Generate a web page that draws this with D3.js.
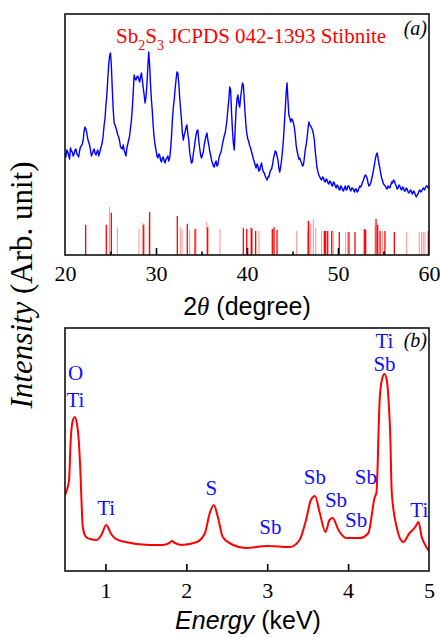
<!DOCTYPE html>
<html>
<head>
<meta charset="utf-8">
<script src="https://cdn.jsdelivr.net/npm/d3@7"></script>
<style>
  body { margin: 0; background: #fff; }
  svg { display: block; }
</style>
</head>
<body>
<div id="chart"></div>
<script>
// XRD pattern, one reading every 0.1 degree from 20 to 60 (arb. counts)
const xrdStart = 20;
const xrdStep = 0.1;
const xrdCounts = [
  102, 98, 105, 103, 100, 96, 107, 104, 103, 99, 101, 105, 106, 101, 100, 98, 104, 108, 109, 111,
  115, 124, 128, 126, 122, 116, 113, 110, 105, 99, 101, 104, 106, 102, 100, 103, 105, 99, 102, 106,
  109, 113, 120, 130, 137, 150, 160, 176, 190, 199, 202, 188, 165, 145, 132, 130, 127, 124, 120, 118,
  114, 108, 107, 106, 110, 105, 102, 99, 107, 111, 115, 119, 127, 135, 147, 163, 180, 176, 175, 178,
  179, 176, 173, 178, 182, 175, 167, 160, 152, 158, 170, 188, 203, 190, 170, 155, 143, 128, 117, 110,
  105, 99, 97, 101, 100, 95, 93, 97, 98, 94, 92, 96, 97, 99, 94, 97, 105, 118, 135, 147,
  155, 166, 175, 183, 182, 172, 158, 146, 135, 122, 115, 120, 123, 128, 130, 121, 115, 103, 97, 92,
  93, 101, 107, 114, 120, 124, 125, 114, 107, 100, 97, 100, 103, 110, 115, 119, 122, 115, 110, 104,
  100, 95, 92, 89, 88, 92, 94, 89, 90, 96, 100, 102, 105, 111, 115, 119, 122, 128, 135, 146,
  155, 168, 165, 143, 125, 112, 105, 126, 145, 156, 160, 152, 148, 158, 165, 172, 170, 155, 140, 128,
  120, 116, 113, 109, 107, 103, 100, 96, 93, 90, 87, 91, 89, 84, 85, 89, 92, 86, 83, 82,
  79, 77, 75, 78, 78, 82, 85, 86, 90, 96, 100, 104, 103, 99, 95, 87, 83, 88, 95, 104,
  115, 130, 145, 162, 172, 155, 140, 137, 133, 136, 135, 132, 128, 120, 110, 104, 100, 96, 97, 94,
  92, 89, 90, 97, 105, 110, 117, 126, 133, 130, 129, 127, 125, 121, 115, 104, 95, 87, 83, 80,
  78, 76, 75, 78, 77, 74, 73, 76, 75, 72, 71, 74, 73, 70, 69, 73, 72, 69, 67, 70,
  69, 66, 65, 69, 68, 65, 64, 67, 69, 65, 66, 69, 69, 66, 64, 67, 67, 65, 63, 66,
  66, 63, 64, 67, 69, 68, 70, 73, 75, 78, 80, 79, 77, 72, 69, 70, 72, 76, 80, 85,
  90, 96, 100, 102, 97, 91, 87, 81, 77, 74, 71, 70, 69, 67, 66, 69, 68, 67, 70, 73,
  72, 75, 74, 71, 69, 66, 67, 70, 69, 66, 65, 68, 67, 64, 64, 67, 66, 63, 62, 64,
  65, 62, 61, 64, 63, 60, 58, 60, 61, 64, 65, 63, 64, 66, 67, 65, 67, 69, 69, 67,
  68
];

// JCPDS 042-1393 (Sb2S3 stibnite) reference lines, relative intensity %
const refAngles = [22.27, 24.54, 25.09, 28.65, 29.30, 32.34, 33.44, 34.29, 35.68, 39.60,
  39.97, 40.50, 40.95, 42.78, 42.97, 43.30, 46.74, 48.50, 48.65, 48.87,
  49.31, 50.14, 51.20, 51.87, 52.89, 53.04, 54.18, 54.36, 54.62, 55.16,
  56.19, 59.93];
const refInt = [63, 63, 88, 63, 90, 81, 65, 54, 58, 56,
  54, 56, 50, 54, 58, 52, 71, 50, 50, 50,
  50, 48, 48, 48, 54, 52, 75, 63, 50, 50,
  48, 50];
// weaker (thin) reference lines
const refFaintAngles = [24.90, 25.75, 28.13, 28.50, 29.23, 32.67, 32.86, 33.70, 34.40, 35.57,
  37.03, 40.40, 40.60, 41.32, 45.46, 46.67, 46.85, 47.00, 47.29, 47.55,
  48.20, 49.48, 50.84, 51.07, 54.07, 54.87, 57.55, 58.93, 59.19, 59.37,
  59.56];
const refFaintInt = [100, 58, 54, 67, 69, 58, 52, 52, 54, 69,
  54, 58, 54, 50, 50, 50, 69, 65, 75, 56,
  50, 50, 48, 48, 60, 50, 48, 48, 48, 48,
  48];

const xrdTicks = [20, 30, 40, 50, 60];
const xrdMajor = [30, 40, 50];
const xrdMinor = [25, 35, 45, 55];

// EDS spectrum
const edsEnergy = [0.50, 0.52, 0.55, 0.57, 0.59, 0.62, 0.65, 0.67, 0.69, 0.72,
  0.76, 0.81, 0.89, 0.95, 1.01, 1.07, 1.13, 1.25, 1.54, 1.70,
  1.79, 1.82, 1.86, 1.94, 2.13, 2.23, 2.29, 2.34, 2.39, 2.45,
  2.58, 2.73, 3.00, 3.28, 3.40, 3.48, 3.54, 3.59, 3.65, 3.72,
  3.77, 3.81, 3.88, 3.98, 4.15, 4.25, 4.33, 4.35, 4.39, 4.42,
  4.45, 4.48, 4.50, 4.52, 4.54, 4.60, 4.68, 4.76, 4.83, 4.87,
  4.91, 4.96, 5.00];
const edsCounts = [76, 80, 91, 130, 148, 154, 146, 131, 100, 44,
  34, 32, 31, 36, 46, 37, 32, 29, 26, 26,
  28, 30, 28, 26, 29, 38, 58, 66, 54, 34,
  26, 23, 25, 24, 31, 51, 71, 75, 58, 39,
  51, 53, 41, 33, 33, 38, 74, 78, 171, 192,
  197, 190, 171, 138, 78, 44, 29, 38, 44, 49,
  34, 25, 20];
const edsTicks = [1, 2, 3, 4, 5];

// element labels: text, energy and level (counts) of their baseline
const edsLabels = ["O", "Ti", "Ti", "S", "Sb", "Sb", "Sb", "Sb", "Sb", "Ti", "Sb", "Ti"];
const edsLabelE = [0.63, 0.63, 1.01, 2.31, 3.04, 3.59, 3.85, 4.10, 4.22, 4.45, 4.45, 4.88];
const edsLabelI = [191, 164, 56, 76, 37, 87, 64, 44, 87, 223, 200, 54];

const W = 440, H = 637;
const serif = "'Liberation Serif', 'Times New Roman', serif";
const sans = "'Liberation Sans', Arial, sans-serif";

const svg = d3.select('#chart').append('svg')
  .attr('width', W)
  .attr('height', H);

// ---------- panel (a): XRD ----------
const xA = d3.scaleLinear().domain([20, 60]).range([65, 429]);
const yA = d3.scaleLinear().domain([0, 241]).range([255, 14]);
const yStick = d3.scaleLinear().domain([0, 100]).range([255, 207]);

svg.append('clipPath').attr('id', 'clipA')
  .append('rect').attr('x', 65).attr('y', 14).attr('width', 364).attr('height', 241);

const xrd = xrdCounts.map((c, i) => ({ t: xrdStart + i * xrdStep, c }));

const gA = svg.append('g');

gA.append('g').attr('clip-path', 'url(#clipA)')
  .selectAll('line')
  .data(refFaintAngles.map((a, i) => ({ a, v: refFaintInt[i] })))
  .enter().append('line')
  .attr('x1', d => xA(d.a)).attr('x2', d => xA(d.a))
  .attr('y1', yStick(0)).attr('y2', d => yStick(d.v))
  .attr('stroke', '#ff9090').attr('stroke-width', 1);

gA.append('g').attr('clip-path', 'url(#clipA)')
  .selectAll('line')
  .data(refAngles.map((a, i) => ({ a, v: refInt[i] })))
  .enter().append('line')
  .attr('x1', d => xA(d.a)).attr('x2', d => xA(d.a))
  .attr('y1', yStick(0)).attr('y2', d => yStick(d.v))
  .attr('stroke', '#ff0000').attr('stroke-width', 1.3);

gA.append('path')
  .datum(xrd)
  .attr('clip-path', 'url(#clipA)')
  .attr('fill', 'none')
  .attr('stroke', '#0000ff')
  .attr('stroke-width', 1.4)
  .attr('stroke-linejoin', 'round')
  .attr('d', d3.line().x(d => xA(d.t)).y(d => yA(d.c)));

// inward ticks on the bottom edge
gA.append('g').attr('transform', 'translate(0,255)')
  .call(d3.axisBottom(xA).tickValues(xrdMajor).tickSize(-7).tickFormat(''))
  .call(g => g.select('.domain').remove())
  .call(g => g.selectAll('line').attr('stroke', '#000').attr('stroke-width', 1.6));
gA.append('g').attr('transform', 'translate(0,255)')
  .call(d3.axisBottom(xA).tickValues(xrdMinor).tickSize(-3.5).tickFormat(''))
  .call(g => g.select('.domain').remove())
  .call(g => g.selectAll('line').attr('stroke', '#000').attr('stroke-width', 1.6));

gA.append('rect')
  .attr('x', 65).attr('y', 14).attr('width', 364).attr('height', 241)
  .attr('fill', 'none').attr('stroke', '#111').attr('stroke-width', 1.6);

// tick labels
gA.append('g').attr('transform', 'translate(0,255)')
  .call(d3.axisBottom(xA).tickValues(xrdTicks).tickSize(0).tickPadding(10))
  .call(g => g.select('.domain').remove())
  .call(g => g.selectAll('text')
    .attr('font-family', serif).attr('font-size', 22).attr('fill', '#000')
    .attr('dy', '0.72em'));

const title = gA.append('text')
  .attr('x', 116).attr('y', 43)
  .attr('font-family', serif).attr('font-size', 21).attr('fill', '#ff0000');
title.append('tspan').text('Sb');
title.append('tspan').attr('dy', 7).attr('font-size', 14).text('2');
title.append('tspan').attr('dy', -7).text('S');
title.append('tspan').attr('dy', 7).attr('font-size', 14).text('3');
title.append('tspan').attr('dy', -7).text(' JCPDS 042-1393 Stibnite');

gA.append('text')
  .attr('x', 427).attr('y', 35).attr('text-anchor', 'end')
  .attr('font-family', serif).attr('font-style', 'italic').attr('font-size', 20)
  .text('(a)');

const xlabA = svg.append('text')
  .attr('x', 247).attr('y', 315).attr('text-anchor', 'middle')
  .attr('font-family', sans).attr('font-size', 25);
xlabA.append('tspan').text('2');
xlabA.append('tspan').attr('font-family', serif).attr('font-style', 'italic').text('θ');
xlabA.append('tspan').text(' (degree)');

// ---------- panel (b): EDS ----------
const xB = d3.scaleLinear().domain([0.5, 5]).range([65, 429]);
const yB = d3.scaleLinear().domain([0, 243]).range([571, 328]);

svg.append('clipPath').attr('id', 'clipB')
  .append('rect').attr('x', 65).attr('y', 328).attr('width', 364).attr('height', 243);

const eds = edsEnergy.map((e, i) => ({ e, c: edsCounts[i] }));

const gB = svg.append('g');

gB.append('path')
  .datum(eds)
  .attr('clip-path', 'url(#clipB)')
  .attr('fill', 'none')
  .attr('stroke', '#ff0000')
  .attr('stroke-width', 2)
  .attr('d', d3.line().curve(d3.curveMonotoneX).x(d => xB(d.e)).y(d => yB(d.c)));

gB.append('g').attr('transform', 'translate(0,571)')
  .call(d3.axisBottom(xB).tickValues(edsTicks.slice(0, 4)).tickSize(-7).tickFormat(''))
  .call(g => g.select('.domain').remove())
  .call(g => g.selectAll('line').attr('stroke', '#000').attr('stroke-width', 1.6));

gB.append('rect')
  .attr('x', 65).attr('y', 328).attr('width', 364).attr('height', 243)
  .attr('fill', 'none').attr('stroke', '#111').attr('stroke-width', 1.6);

gB.append('g').attr('transform', 'translate(0,571)')
  .call(d3.axisBottom(xB).tickValues(edsTicks).tickSize(0).tickPadding(11).tickFormat(d3.format('d')))
  .call(g => g.select('.domain').remove())
  .call(g => g.selectAll('text')
    .attr('font-family', serif).attr('font-size', 22).attr('fill', '#000')
    .attr('dy', '0.72em'));

gB.selectAll('text.el')
  .data(edsLabels)
  .enter().append('text')
  .attr('class', 'el')
  .attr('x', (d, i) => xB(edsLabelE[i]))
  .attr('y', (d, i) => yB(edsLabelI[i]))
  .attr('text-anchor', 'middle')
  .attr('font-family', serif).attr('font-size', 21).attr('fill', '#1010ff')
  .text(d => d);

gB.append('text')
  .attr('x', 427).attr('y', 347).attr('text-anchor', 'end')
  .attr('font-family', serif).attr('font-style', 'italic').attr('font-size', 20)
  .text('(b)');

const xlabB = svg.append('text')
  .attr('x', 248).attr('y', 629).attr('text-anchor', 'middle')
  .attr('font-family', sans).attr('font-size', 25);
xlabB.append('tspan').attr('font-style', 'italic').text('Energy');
xlabB.append('tspan').text(' (keV)');

// shared y label
const ylab = svg.append('text')
  .attr('transform', 'translate(32,285) rotate(-90)')
  .attr('text-anchor', 'middle')
  .attr('font-family', serif).attr('font-size', 31);
ylab.append('tspan').attr('font-style', 'italic').text('Intensity');
ylab.append('tspan').text(' (Arb. unit)');
</script>
</body>
</html>
